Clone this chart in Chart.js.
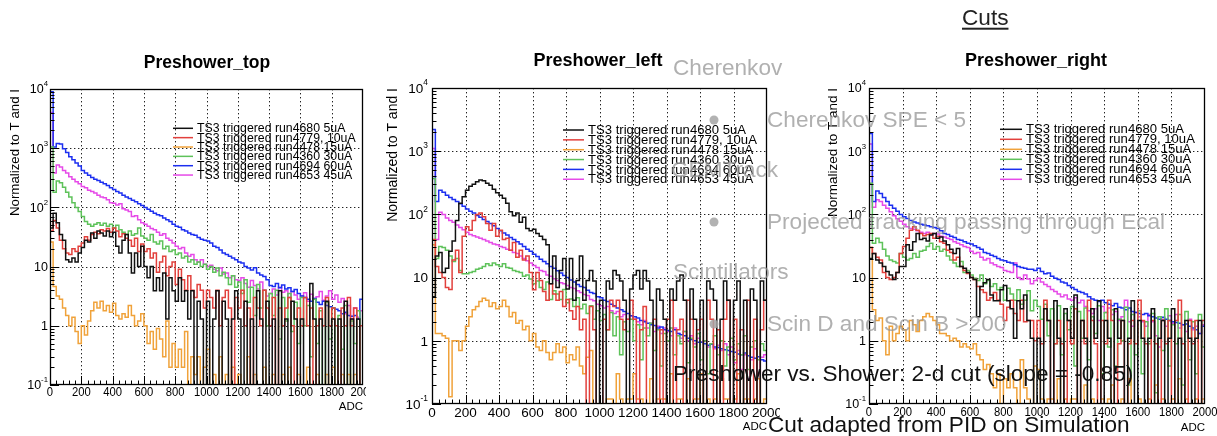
<!DOCTYPE html>
<html>
<head>
<meta charset="utf-8">
<script src="https://cdn.jsdelivr.net/npm/chart.js@4.4.0/dist/chart.umd.min.js"></script>
<style>
  html, body { margin: 0; padding: 0; background: #fff; }
  #page { position: relative; width: 1217px; height: 436px; overflow: hidden;
          font-family: "Liberation Sans", Arial, Helvetica, sans-serif; }
  #page canvas { position: absolute; top: 0; }
  .note { position: absolute; white-space: nowrap; font-size: 22.6px; line-height: 1;
          color: rgba(150,150,150,0.75); transform: translateY(-50%); z-index: 5; }
  .note.dark { color: #111; }
  .note.head { color: #222; text-decoration: underline; text-decoration-thickness: 1.5px; text-underline-offset: 3px; }
  .dot { position: absolute; width: 9px; height: 9px; border-radius: 50%;
         background: rgba(165,165,165,0.85); transform: translate(-50%, -50%); z-index: 5; }
</style>
</head>
<body>
<div id="page">
  <canvas id="cTop" width="366" height="436" style="left:0px"></canvas>
  <canvas id="cLeft" width="400" height="436" style="left:380px"></canvas>
  <canvas id="cRight" width="417" height="436" style="left:800px"></canvas>

  <div class="note head" style="left:962px; top:18px;">Cuts</div>
  <div class="note" style="left:673px; top:68px;">Cherenkov</div>
  <div class="dot" style="left:714px; top:120px;"></div>
  <div class="note" style="left:767px; top:120px;">Cherenkov SPE &lt; 5</div>
  <div class="note" style="left:671px; top:170px;">GEMTrack</div>
  <div class="dot" style="left:714px; top:222px;"></div>
  <div class="note" style="left:767px; top:222px;">Projected tracking passing through Ecal</div>
  <div class="note" style="left:673px; top:272px;">Scintillators</div>
  <div class="dot" style="left:714px; top:324px;"></div>
  <div class="note" style="left:767px; top:324px;">Scin D and Scin B &gt;200</div>
  <div class="note dark" style="left:673px; top:374px;">Preshower vs. Shower: 2-d cut (slope = -0.85)</div>
  <div class="note dark" style="left:768px; top:425px;">Cut adapted from PID on Simulation</div>
</div>

<script>
// ---- axis definitions ----
const binWidth = 20;            // ADC per bin
const nBins = 100;              // 0 .. 2000 ADC
const xTicks = [0, 200, 400, 600, 800, 1000, 1200, 1400, 1600, 1800, 2000];
const xTickLabels = ['0', '200', '400', '600', '800', '1000', '1200', '1400', '1600', '1800', '2000'];
const yDecades = [0.1, 1, 10, 100, 1000, 10000];
const yTickLabels = [['10', '-1'], ['1', ''], ['10', ''], ['10', '2'], ['10', '3'], ['10', '4']];
const yAxisTitle = 'Normalized to T and I';
const xAxisTitle = 'ADC';

const runLabels = [
  'TS3 triggered run4680 5uA',
  'TS3 triggered run4779, 10uA',
  'TS3 triggered run4478 15uA',
  'TS3 triggered run4360 30uA',
  'TS3 triggered run4694 60uA',
  'TS3 triggered run4653 45uA'
];
const runColors = ['#111111', '#e2403c', '#f0a23a', '#5ec25a', '#1c2ff0', '#e64ae8'];

// ---- Preshower_top ----
const topBlack = [45,80,55,35,28,13,12,14,12,17, 21,28,26,37,30,40,37,33,40,32,
  38,22,17,28,35,17,7.8,17,10,22, 10,6.5,10,3.9,6.5,3.9,7.8,1.3,6.5,3.9,
  2.6,6.5,2.6,3.9,1.3,3.9,0,2.6,1.3,0, 2.6,0,1.3,3.9,0,2.6,1.3,0,1.3,3.9,
  1.3,0,2.6,0,1.3,0,3.9,1.3,0,2.6, 0,1.3,0,3.9,0,1.3,0,2.6,1.3,0,
  1.3,0,0,5.2,1.3,0,1.3,0,2.6,0, 1.3,0,1.3,0,2.6,0,1.3,0,1.3,0];
const topRed = [40,60,45,28,20,17,16,20,18,22, 25,32,28,35,38,36,42,40,44,38,
  45,40,32,36,30,28,22,30,18,24, 18,20,14,17,8,12,15,7,10,12,
  5,9,6,4,7,4,3,5,4,2, 4,3,2,4,1,3,4,2,0,3,
  2,4,1,2,0,3,2,1,4,2, 1,3,0,2,1,2,3,1,0,2,
  1,3,1,2,0,1,2,1,3,1, 2,1,0,2,1,3,1,2,0,1];
const topOrange = [26,4.6,3.2,2.8,2.0,1.5,1.0,1.4,0.8,0.5, 1.0,0.7,1.2,1.8,2.5,2.0,2.6,1.8,2.2,1.7,
  2.4,1.5,1.3,1.6,1.4,2.2,1.5,1.0,1.2,1.6, 1.0,0.5,0.8,0.4,0.9,0.6,0.3,1.2,0.2,0.5,
  0.2,0.4,0.2,0.8,0,0.3,0.15,0.3,0,0.2, 0.4,0,0.15,0,0.3,0,0.15,0,0.2,0,
  0.15,0,0,0.3,0,0.15,0,0,0.2,0, 0,0.15,0,0,0.15,0,0.2,0,0,0.15,
  0,0,0.2,0,0,0.15,0,0,0.15,0, 0.2,0,0,0.15,0,0.15,0,0.15,0,0];
const topGreen = [1050,180,280,260,220,180,150,120,100,85, 70,58,52,48,52,55,50,54,48,52,
  45,50,42,38,35,40,34,36,45,33, 30,28,35,26,24,27,20,22,18,19,
  16,17,14,15,12,13,11,12,10,11, 9,10,8,9.5,7,8,6.5,5,7,4.5,
  5.5,3.5,6,2.5,4.5,1.5,5,2,4,1, 3.5,1.5,4,0.6,3,1.2,3.5,0.8,2.5,0.5,
  3,1,2.2,0.3,2.8,0.5,1.8,0,2.5,0.6, 2,0,1.5,0.4,2.2,0,1.2,0.5,1.8,0];
const topBlue = [9000,1050,1200,1180,980,850,720,640,560,500, 420,380,350,320,300,285,265,250,235,215,
  200,185,175,160,150,142,132,125,115,108, 100,93,86,80,75,72,66,62,58,52,
  48,46,42,40,37,35,34,31,29,28, 27,25,22,21,19,17,16,15,14,13,
  12,11.5,10,9.5,8.8,9.6,7.8,7.2,6.8,6.0, 4.8,4.6,5.2,4.4,4.9,4.2,4.4,3.8,4.1,3.5,
  3.2,3.0,2.8,2.6,2.9,2.5,2.3,2.6,2.2,2.1, 2.0,1.9,1.8,1.6,1.7,1.5,1.45,1.5,1.3,2.8];
const topMagenta = [4000,380,520,480,420,380,330,300,270,250, 225,215,195,185,175,160,150,145,135,120,
  118,110,115,95,90,85,70,72,62,55, 52,48,44,42,38,34,36,30,28,25,
  22,20,21,17,15,16,13,12,13,11, 10,10.5,9,8.5,9.5,7.5,7.8,6.5,7,6,
  5.8,6.5,5.2,4.5,5.8,4.8,4.2,5.5,4.0,3.2, 3.5,4.2,3.3,4.5,3.7,3.9,3.0,3.8,3.3,2.8,
  3.2,3.6,2.6,3.4,2.9,3.1,3.8,2.7,3.2,3.9, 2.8,3.3,2.5,2.9,1.6,2.2,1.3,2.0,1.4,1.8];

// ---- Preshower_left ----
const leftBlack = [5,22,25,12,14,26,38,80,150,190, 240,280,300,330,350,340,310,290,250,220,
  200,180,150,110,95,105,75,90,60,55, 58,50,45,40,33,8,22,7,13,20,
  6.6,20,4.4,9,22,4.4,9,13,8.8,0, 4.4,0,8.8,6.6,13,11,8.8,4.4,0,6.6,
  11,13,6.6,13,8.8,4.4,0,6.6,4.4,2.2, 0,6.6,4.4,8.8,11,4.4,0,6.6,2.2,0,
  4.4,0,8.8,6.6,4.4,0,2.2,8.8,4.4,0, 4.4,8.8,0,4.4,0,6.6,4.4,0,8.8,4.4];
const leftRed = [40,15,12,10,7,6.5,19,27,12,45, 64,56,80,100,105,92,72,56,72,45,
  56,40,42,27,36,21,27,19,22,12, 6.4,12,9,6,4.4,8,5.5,4.4,6,3.5,
  4.5,3.0,2.2,3.5,1.5,2.2,0,3.5,1.5,0, 0,2.2,1.5,4.4,3.5,4.4,2.2,1.5,2.2,4.4,
  2.2,0,1.5,3.5,0,0,2.2,0,1.5,0, 2.2,4.4,0,1.5,2.2,0,4.4,2.2,0,1.5,
  2.2,0,4.4,2.2,0,1.5,0,2.2,4.4,0, 2.2,0,1.5,0,4.4,0,2.2,0,1.5,4.4];
const leftOrange = [33,1.3,1.3,1.2,1.1,0.13,1.0,1.0,0.7,1.0, 1.7,2.4,3.1,3.5,4.2,4.7,4.4,3.5,4.0,3.2,
  3.5,4.4,3.5,2.4,2.8,1.9,2.1,1.5,1.7,1.0, 1.3,0.8,0.7,1.0,0.65,0.5,0.65,0.9,0.65,0.8,
  0.45,0.6,0.5,0.8,0.4,0.3,0.55,0.7,0.1,0, 0,0,0.12,0.12,0,0.3,0.12,0,0.12,0.12,
  0.3,0.12,0.12,0,0,0.25,0,0.12,0.12,0.12, 0,0.3,0,0.12,0.12,0,0.25,0,0.12,0.12,
  0.3,0,0.12,0,0.12,0,0.25,0.12,0.12,0, 0.12,0.3,0,0.12,0.12,0,0.12,0.25,0,0.12];
const leftGreen = [370,20,31,30,27,22,18,20,13,11.5, 11.5,12,12.5,13.5,14,15,16.5,15.5,17,16,
  15,16.5,14.5,14,13,12.5,12,10.5,11,9.5, 8,8.8,7,6.5,8.5,4.5,6.2,5.5,4.5,6.5,
  4,4.6,3.5,4.8,3.2,3.8,2.7,3.6,2.2,3.0, 2.1,2.6,1.5,2.8,1.2,2.4,0.6,2.0,1.4,2.2,
  1.0,1.8,0.5,1.6,1.2,1.9,0.7,1.5,0.4,1.3, 1.0,1.6,0.6,1.2,0.9,1.4,0.45,1.1,0.8,1.3,
  0.5,1.0,0.3,0.9,1.2,0.6,1.0,0.4,0.8,1.1, 0.5,0.9,0.6,1.2,0.35,0.8,1.0,0.5,0.9,0.7];
const leftBlue = [2200,160,240,225,200,185,172,160,148,135, 122,112,105,96,90,83,77,72,66,60,
  55,51,47,43,40,37,34,31,28,26, 23.5,21.5,19.5,18,16.5,15,14,12.8,11.8,10.8,
  10,9.2,8.5,7.8,7.2,7.0,6.3,5.8,5.6,5.0, 4.8,4.4,4.2,3.8,3.6,3.3,3.1,2.9,2.7,2.5,
  2.4,2.3,2.1,2.0,1.9,1.8,1.75,1.6,1.65,1.5, 1.45,1.4,1.5,1.3,1.25,1.2,1.1,1.05,1.0,0.95,
  0.95,0.9,0.85,0.88,0.8,0.78,0.75,0.72,0.7,0.68, 0.66,0.62,0.6,0.64,0.58,0.55,0.53,0.56,0.5,0.48];
const leftMagenta = [1100,40,108,100,88,80,75,68,62,57, 52,48,46,44,42,40,38,36,34,33,
  31,30,28,27,25,24,22,20,18.5,17, 15.5,14.5,13,12.5,11,10.5,9.6,9,8.3,8,
  7.5,7,6.7,6.2,5.8,5.4,5.2,4.5,4.3,3.8, 3.6,3.3,3.5,3.0,2.7,2.9,2.4,2.6,2.2,2.5,
  2.2,2.0,1.8,2.1,1.6,1.9,1.4,1.7,1.3,1.6, 1.4,1.2,1.6,1.3,1.1,1.4,1.0,1.2,0.9,1.1,
  0.95,1.0,0.8,0.9,0.75,0.85,0.7,0.9,0.6,0.8, 0.45,0.7,0.35,0.6,0.25,0.5,0.75,0.3,0.55,0.6];

// ---- Preshower_right ----
const rightBlack = [20,24,19,17,15,12.5,11,9.3,12,15, 15,33,27,37,50,40,42,38,47,50,
  42,44,38,33,28,24,29,15,14,12, 10,9.3,2.4,7.2,8.3,9.3,5.3,4.3,4.3,6.4,
  7.5,4.3,3.2,1.1,4.3,3.2,5.3,2.1,1.1,0, 1.1,0,3.2,2.1,0,4.3,1.1,0,3.2,2.1,
  1.1,5.3,0,2.1,1.1,0,3.2,1.1,4.3,0, 2.1,1.1,0,3.2,1.1,2.1,0,1.1,4.3,0,
  2.1,1.1,0,1.1,3.2,0,1.1,2.1,0,1.1, 3.2,0,1.1,0,2.1,1.1,0,1.1,2.1,0];
const rightRed = [30,24,21,19,12,10,9.3,10,12,24, 31,42,56,64,56,50,46,48,50,42,
  45,37,35,27,25,19,21,15,13,11.6, 10,9.3,7.2,6.4,5.8,4.4,4.8,5.8,4.4,3.8,
  2.1,3.4,4.4,2.7,2.1,4.4,2.0,2.1,2.1,1.0, 2.1,0.9,4.4,2.1,0,0.9,2.1,0.9,0,2.1,
  0.9,3.2,0,2.1,0.9,4.4,2.1,0.9,0,2.1, 0.9,4.4,2.1,0,0.9,2.1,0,0.9,2.1,0.9,
  4.4,2.1,0.9,0,2.1,0.9,0,2.1,0.9,2.1, 0,2.1,4.4,0.9,0,2.1,0.9,2.1,0,2.1];
const rightOrange = [30,3.1,2.1,2.3,1.0,0.6,1.7,1.0,1.3,1.7, 1.5,1.0,2.1,1.8,1.4,2.1,2.4,2.7,2.4,2.1,
  1.8,1.3,1.3,1.2,1.0,1.1,1.0,0.8,0.9,0.8, 0.75,0.9,0.6,0.5,0.35,0.42,0.3,0.18,0.3,0,
  0.25,0.18,0.3,0.18,0,0.5,0.18,0.12,0,0.4, 0.35,0.12,0,0.12,0.12,0,0.25,0,0.12,0,
  0.12,0.12,0,0,0.2,0,0.12,0,0,0.12, 0,0.12,0.2,0,0,0.12,0,0.25,0,0,
  0.12,0,0,0.12,0,0.2,0,0.12,0,0, 0.12,0,0.25,0,0.12,0,0,0.12,0,0.12];
const rightGreen = [310,35,42,36,28,22,19,18,17,24, 21,19,20,24,21,26,27,31,35,28,
  31,26,28,22,19,17,15,18,12,13, 11,9.8,9,11,8,9,7.2,8,6.4,7,
  4.4,6.8,5.5,4.4,6.4,3.8,4.4,6.2,3.0,4.4, 3.5,2.2,3.8,1.2,3.2,0.9,3.6,0.6,2.7,1.5,
  3.5,0.4,2.9,1.1,3.3,0.5,2.4,1.3,3.6,0.3, 2.8,0.8,3.1,0.4,2.2,1.0,3.4,0.2,2.6,0.6,
  3.0,0.3,2.0,0.9,2.7,0.15,2.4,0.7,3.2,0.4, 1.8,0.9,2.6,0.2,2.9,0.5,2.0,0.3,2.6,0.8];
const rightBlue = [1900,160,235,215,185,160,140,125,112,100, 92,86,80,76,73,70,68,66,64,62,
  60,55,50,48,45,43,40,39,37,35, 34,32,30,28,25,24,22.5,21.5,20,19,
  18.5,17.5,17,16,15,14.5,14,13.5,13.5,13, 14,12.5,11.5,11.8,10.5,9.8,9.3,8.5,8.2,7.5,
  7.0,6.5,6.0,5.8,5.5,5.0,4.6,4.4,4.2,4.4, 4.0,3.8,3.6,3.9,3.4,3.3,3.1,3.3,2.9,2.8,
  2.7,2.6,2.7,2.5,2.4,2.3,2.2,2.35,2.2,2.1, 2.0,1.95,1.9,1.8,1.85,1.7,1.6,1.5,1.3,1.7];
const rightMagenta = [1300,130,170,160,140,125,110,95,85,78, 70,64,60,58,55,52,50,52,48,50,
  49,45,44,42,40,37,35,33,31,30, 26,24,25,21,19,20,17,16,15,14.5,
  13,12.5,12,17,10,9.3,11,9.5,8,9, 9.8,8.5,7.8,7.2,6.5,6.0,5.5,5.0,5.3,4.6,
  4.4,4.8,4.0,4.4,3.5,3.0,2.7,3.2,2.1,3.5, 2.8,3.3,2.6,2.9,2.1,2.4,4.4,2.0,1.7,2.8,
  2.4,2.0,1.7,2.6,2.0,1.2,0.8,2.2,1.7,2.5, 1.9,2.6,1.6,1.8,1.4,2.2,1.5,1.7,1.3,1.8];

// ---- helpers ----
const FONT = '"Liberation Sans", Arial, Helvetica, sans-serif';
const binEdges = Array.from({ length: nBins + 1 }, (_, i) => i * binWidth);

// Histogram outline: one point per lower bin edge plus the closing edge.
// Empty bins fall below the frame, as in a log-scale histogram.
function histPoints(vals) {
  const pts = vals.map((v, i) => ({ x: binEdges[i], y: v > 0 ? v : 0.01 }));
  pts.push({ x: binEdges[nBins], y: pts[pts.length - 1].y });
  return pts;
}

function drawScaled(ctx, text, x, y, align, sx) {
  ctx.save();
  ctx.translate(x, y);
  ctx.scale(sx, 1);
  ctx.textAlign = align;
  ctx.fillText(text, 0, 0);
  ctx.restore();
}

// Frame, dotted grid, ticks, labels and legend drawn in the style of a ROOT canvas
const rootFrame = {
  id: 'rootFrame',
  beforeDatasetsDraw(chart, _args, o) {
    const { ctx, chartArea: a } = chart;
    const xs = chart.scales.x, ys = chart.scales.y;
    ctx.save();
    ctx.strokeStyle = '#222';
    ctx.lineWidth = 1;
    ctx.setLineDash([1.4, 2.6]);
    ctx.beginPath();
    xTicks.forEach(v => {
      const px = Math.round(xs.getPixelForValue(v)) + 0.5;
      if (px <= a.left + 2 || px >= a.right - 2) return;
      ctx.moveTo(px, a.top); ctx.lineTo(px, a.bottom);
    });
    yDecades.forEach(v => {
      const py = Math.round(ys.getPixelForValue(v)) + 0.5;
      if (py <= a.top + 2 || py >= a.bottom - 2) return;
      ctx.moveTo(a.left, py); ctx.lineTo(a.right, py);
    });
    ctx.stroke();
    ctx.restore();
  },
  afterDatasetsDraw(chart, _args, o) {
    const { ctx, chartArea: a } = chart;
    const xs = chart.scales.x, ys = chart.scales.y;
    ctx.save();
    ctx.setLineDash([]);
    ctx.strokeStyle = '#000';
    ctx.fillStyle = '#000';

    // frame
    ctx.lineWidth = 1.3;
    ctx.strokeRect(Math.round(a.left) + 0.5, Math.round(a.top) + 0.5,
                   Math.round(a.right - a.left) - 1, Math.round(a.bottom - a.top) - 1);

    // x ticks (major every 200, minor every 40)
    ctx.lineWidth = 1;
    ctx.beginPath();
    for (let v = 0; v <= 2000; v += 40) {
      const px = Math.round(xs.getPixelForValue(v)) + 0.5;
      if (px > a.right) continue;
      const len = v % 200 === 0 ? o.tickMajor : o.tickMinor;
      ctx.moveTo(px, a.bottom); ctx.lineTo(px, a.bottom - len);
    }
    // y ticks (decades and log sub-divisions)
    for (let d = 0; d < yDecades.length; d++) {
      const base = yDecades[d];
      const py = Math.round(ys.getPixelForValue(base)) + 0.5;
      ctx.moveTo(a.left, py); ctx.lineTo(a.left + o.tickMajor, py);
      if (d === yDecades.length - 1) break;
      for (let m = 2; m <= 9; m++) {
        const pm = Math.round(ys.getPixelForValue(base * m)) + 0.5;
        ctx.moveTo(a.left, pm); ctx.lineTo(a.left + o.tickMinor, pm);
      }
    }
    ctx.stroke();

    // x tick labels
    ctx.textBaseline = 'middle';
    ctx.font = `${o.xLabelSize}px ${FONT}`;
    xTicks.forEach((v, i) => {
      drawScaled(ctx, xTickLabels[i], xs.getPixelForValue(v), a.bottom + o.xLabelDy, 'center', o.xLabelSx);
    });

    // y tick labels with raised exponents
    yDecades.forEach((v, i) => {
      const [mant, expo] = yTickLabels[i];
      const py = ys.getPixelForValue(v);
      const right = a.left - o.yLabelGap;
      let expW = 0;
      if (expo) {
        ctx.font = `${o.yLabelSize * 0.62}px ${FONT}`;
        expW = ctx.measureText(expo).width * o.yLabelSx;
        ctx.textBaseline = 'middle';
        drawScaled(ctx, expo, right, py - o.yLabelSize * 0.38, 'right', o.yLabelSx);
      }
      ctx.font = `${o.yLabelSize}px ${FONT}`;
      ctx.textBaseline = 'middle';
      drawScaled(ctx, mant, right - expW, py + 1, 'right', o.yLabelSx);
    });

    // axis titles
    ctx.font = `${o.adcSize}px ${FONT}`;
    ctx.textBaseline = 'middle';
    drawScaled(ctx, xAxisTitle, a.right, o.adcY, 'right', 1);

    ctx.save();
    ctx.font = `${o.yTitleSize}px ${FONT}`;
    ctx.translate(o.yTitleX, a.top);
    ctx.rotate(-Math.PI / 2);
    ctx.textAlign = 'right';
    ctx.textBaseline = 'middle';
    ctx.fillText(yAxisTitle, 0, 0);
    ctx.restore();

    // histogram title
    ctx.font = `bold ${o.titleSize}px ${FONT}`;
    ctx.textBaseline = 'middle';
    drawScaled(ctx, o.title, o.titleX, o.titleY, 'center', 1);

    // legend
    ctx.font = `${o.legendSize}px ${FONT}`;
    ctx.textBaseline = 'middle';
    chart.data.datasets.forEach((ds, i) => {
      const yy = o.legendY0 + i * o.legendDy;
      ctx.strokeStyle = ds.borderColor;
      ctx.lineWidth = 1.5;
      ctx.beginPath();
      ctx.moveTo(o.legendX0, yy); ctx.lineTo(o.legendX1, yy);
      ctx.stroke();
      ctx.fillStyle = '#000';
      drawScaled(ctx, ds.label, o.legendTx, yy + 0.5, 'left', 1);
    });
    ctx.restore();
  }
};

function makePanel(canvasId, series, pad, frame) {
  const datasets = series.map((vals, i) => ({
    label: runLabels[i],
    data: histPoints(vals),
    borderColor: runColors[i],
    borderWidth: 1.5,
    pointRadius: 0,
    fill: false,
    stepped: 'before',
    tension: 0
  }));
  return new Chart(document.getElementById(canvasId), {
    type: 'line',
    data: { datasets },
    options: {
      responsive: false,
      animation: false,
      devicePixelRatio: 1,
      layout: { padding: pad },
      scales: {
        x: { type: 'linear', min: 0, max: 2000, display: false },
        y: { type: 'logarithmic', min: 0.1, max: 10000, display: false }
      },
      plugins: {
        legend: { display: false },
        tooltip: { enabled: false },
        rootFrame: frame
      }
    },
    plugins: [rootFrame]
  });
}

makePanel('cTop',
  [topBlack, topRed, topOrange, topGreen, topBlue, topMagenta],
  { left: 50, right: 3, top: 89, bottom: 51 },
  { title: 'Preshower_top', titleX: 207, titleY: 63, titleSize: 17.5,
    tickMajor: 9, tickMinor: 4.5,
    xLabelSize: 12.5, xLabelSx: 0.9, xLabelDy: 8,
    yLabelSize: 12.5, yLabelSx: 1, yLabelGap: 2,
    adcSize: 11.5, adcY: 407,
    yTitleX: 15, yTitleSize: 13.3,
    legendX0: 173, legendX1: 193, legendTx: 197, legendY0: 128.3, legendDy: 9.35, legendSize: 12.3 });

makePanel('cLeft',
  [leftBlack, leftRed, leftOrange, leftGreen, leftBlue, leftMagenta],
  { left: 52, right: 13, top: 88, bottom: 32 },
  { title: 'Preshower_left', titleX: 218, titleY: 61, titleSize: 18,
    tickMajor: 9, tickMinor: 4.5,
    xLabelSize: 13.5, xLabelSx: 1, xLabelDy: 9,
    yLabelSize: 13.5, yLabelSx: 1, yLabelGap: 4,
    adcSize: 11.5, adcY: 427,
    yTitleX: 13, yTitleSize: 14,
    legendX0: 183, legendX1: 204, legendTx: 208, legendY0: 130, legendDy: 9.85, legendSize: 13.1 });

makePanel('cRight',
  [rightBlack, rightRed, rightOrange, rightGreen, rightBlue, rightMagenta],
  { left: 69, right: 12, top: 88, bottom: 32 },
  { title: 'Preshower_right', titleX: 236, titleY: 61, titleSize: 18,
    tickMajor: 9, tickMinor: 4.5,
    xLabelSize: 12.5, xLabelSx: 0.9, xLabelDy: 9,
    yLabelSize: 12.5, yLabelSx: 1, yLabelGap: 3,
    adcSize: 11.5, adcY: 428,
    yTitleX: 33, yTitleSize: 13.5,
    legendX0: 200, legendX1: 222, legendTx: 226, legendY0: 129.3, legendDy: 10, legendSize: 13.1 });
</script>
</body>
</html>
